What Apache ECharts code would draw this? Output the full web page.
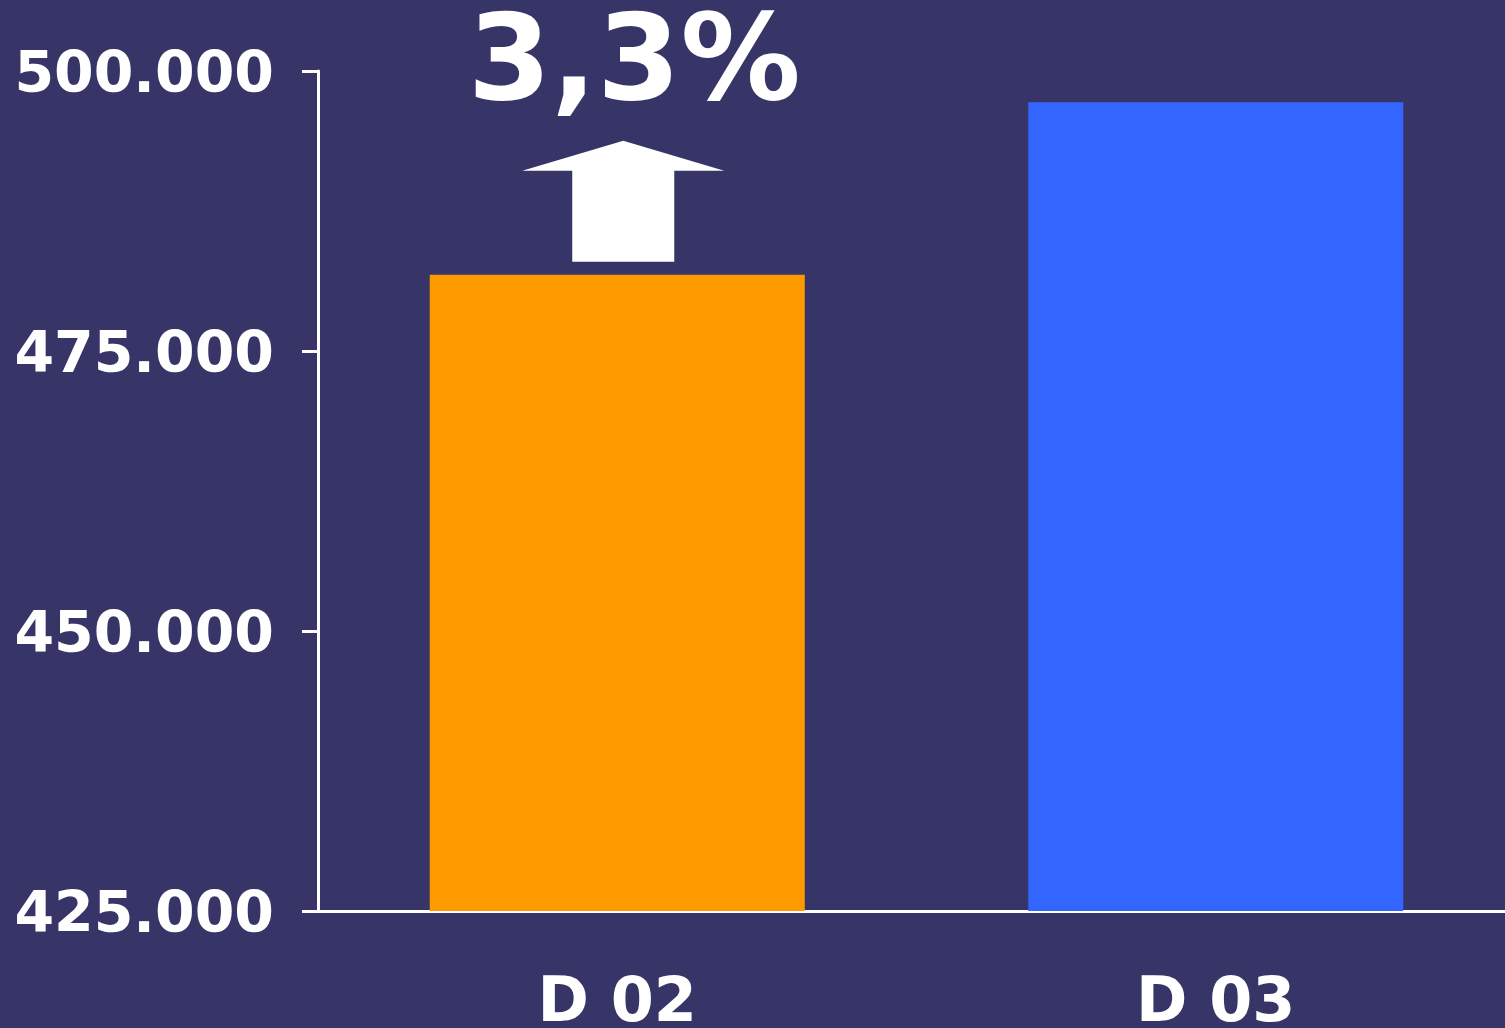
<!DOCTYPE html>
<html>
<head>
<meta charset="utf-8">
<script src="https://cdn.jsdelivr.net/npm/echarts@6/dist/echarts.min.js"></script>
<style>
html,body{margin:0;padding:0;background:#373468;overflow:hidden;}
#c{width:1505px;height:1028px;}
</style>
</head>
<body>
<div id="c"></div>
<script>
var categories = ['D 02', 'D 03'];
var values = [481800, 497200];
var barColors = ['#FF9900', '#3366FF'];
var yTicks = [425000, 450000, 475000, 500000];
var changeLabel = '3,3%';

var chart = echarts.init(document.getElementById('c'), null, {renderer: 'canvas'});
var FONT = '"DejaVu Sans", sans-serif';

function fmt(v) {
  return String(v).replace(/\B(?=(\d{3})+(?!\d))/g, '.');
}

chart.setOption({
  backgroundColor: '#373468',
  animation: false,
  grid: {left: 318, top: 71, width: 1197, height: 840, containLabel: false, outerBoundsMode: 'none'},
  xAxis: {
    type: 'category',
    data: categories,
    axisLine: {lineStyle: {color: '#ffffff', width: 3}},
    axisTick: {show: false},
    axisLabel: {color: '#ffffff', fontFamily: FONT, fontWeight: 'bold', fontSize: 62, margin: 63}
  },
  yAxis: {
    type: 'value',
    min: yTicks[0],
    max: yTicks[yTicks.length - 1],
    interval: yTicks[1] - yTicks[0],
    splitLine: {show: false},
    axisLine: {show: true, lineStyle: {color: '#ffffff', width: 3}},
    axisTick: {show: true, length: 16, lineStyle: {color: '#ffffff', width: 3}},
    axisLabel: {color: '#ffffff', fontFamily: FONT, fontWeight: 'bold', fontSize: 57, margin: 44,
      formatter: function (v) { return '{a|' + fmt(v) + '}'; },
      rich: {a: {color: '#ffffff', fontFamily: FONT, fontWeight: 'bold', fontSize: 57, padding: [12, 0, 0, 0]}}}
  },
  series: [{
    type: 'bar',
    barWidth: 375,
    data: values.map(function (v, i) { return {value: v, itemStyle: {color: barColors[i]}}; })
  }]
});

var p = chart.convertToPixel({xAxisIndex: 0, yAxisIndex: 0}, [0, values[0]]);
var ax = p[0] + 6, ay = p[1];
chart.setOption({
  graphic: [
    {
      type: 'polygon',
      shape: {points: [
        [ax, ay - 134], [ax + 101, ay - 104], [ax + 51, ay - 104], [ax + 51, ay - 13],
        [ax - 51, ay - 13], [ax - 51, ay - 104], [ax - 101, ay - 104]
      ]},
      style: {fill: '#ffffff'}
    },
    {
      type: 'text',
      x: p[0] + 17, y: ay - 147,
      style: {text: changeLabel, fill: '#ffffff', font: 'bold 120px "DejaVu Sans", sans-serif',
        textAlign: 'center', textVerticalAlign: 'bottom'}
    }
  ]
});
</script>
</body>
</html>
